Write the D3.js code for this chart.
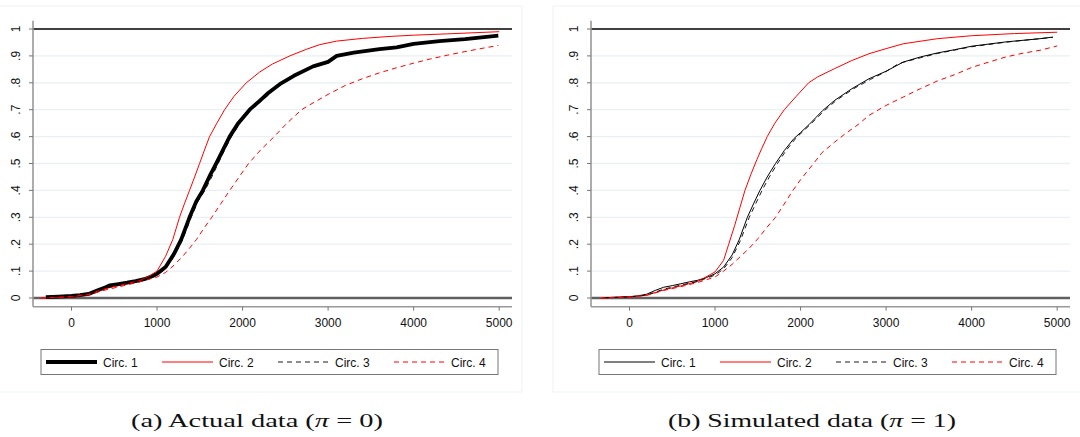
<!DOCTYPE html>
<meta charset="utf-8">
<style>
body { margin: 0; background: #fff; }
.tick-label { font: 12px "Liberation Sans", Arial, sans-serif; fill: #111; }
.legend text { font: 12px "Liberation Sans", Arial, sans-serif; fill: #111; }
.caption { font-family: "Liberation Serif", "DejaVu Serif", serif; font-size: 19px; fill: #111; }
</style>
<svg width="1080" height="437"></svg>
<script src="https://d3js.org/d3.v7.min.js"></script>
<script>

// --- data: [x, cumulative share] ---
var actualCirc1 = [[-300,0.003],[-150,0.005],[0,0.008],[100,0.011],[200,0.015],[300,0.028],[400,0.04],[450,0.047],[550,0.052],[650,0.057],[750,0.063],[850,0.07],[950,0.082],[1000,0.09],[1100,0.115],[1200,0.165],[1282,0.217],[1380,0.3],[1460,0.36],[1536,0.4],[1610,0.45],[1692,0.5],[1770,0.55],[1849,0.6],[1950,0.65],[2083,0.7],[2200,0.733],[2300,0.762],[2435,0.795],[2600,0.826],[2825,0.861],[3000,0.878],[3100,0.9],[3300,0.912],[3600,0.925],[3800,0.932],[4000,0.945],[4300,0.955],[4600,0.962],[4990,0.975]];
var actualCirc2 = [[-360,0],[-200,0.002],[0,0.006],[200,0.014],[300,0.025],[400,0.035],[600,0.05],[800,0.065],[900,0.08],[1000,0.1],[1100,0.155],[1184,0.217],[1263,0.3],[1320,0.35],[1380,0.4],[1440,0.45],[1497,0.5],[1555,0.55],[1614,0.6],[1700,0.65],[1790,0.7],[1900,0.75],[2044,0.8],[2200,0.84],[2350,0.87],[2552,0.9],[2750,0.925],[2904,0.942],[3100,0.955],[3400,0.965],[3700,0.972],[4000,0.977],[4400,0.982],[5000,0.99]];
var actualCirc3 = [[-300,0.003],[0,0.008],[200,0.014],[400,0.037],[600,0.05],[800,0.064],[1000,0.085],[1100,0.108],[1200,0.155],[1300,0.217],[1400,0.3],[1480,0.36],[1560,0.4],[1640,0.45],[1715,0.5],[1790,0.55],[1870,0.6],[1970,0.65],[2100,0.7],[2250,0.74],[2450,0.796],[2620,0.827],[2830,0.86],[3000,0.877],[3100,0.899],[3300,0.911],[3600,0.925],[4000,0.943],[4400,0.958],[4960,0.973]];
var actualCirc4 = [[-360,0],[0,0.004],[200,0.012],[400,0.03],[600,0.045],[800,0.06],[1000,0.078],[1100,0.095],[1200,0.122],[1300,0.155],[1380,0.185],[1460,0.217],[1550,0.26],[1640,0.3],[1745,0.35],[1850,0.4],[1960,0.45],[2070,0.5],[2210,0.55],[2370,0.6],[2520,0.65],[2690,0.7],[2850,0.73],[3000,0.757],[3200,0.79],[3400,0.815],[3600,0.837],[3800,0.856],[4000,0.873],[4200,0.889],[4400,0.903],[4600,0.916],[4800,0.928],[4990,0.939]];

var simCirc1 = [[-300,0.001],[0,0.005],[100,0.008],[200,0.014],[300,0.028],[400,0.04],[500,0.046],[600,0.053],[700,0.06],[800,0.066],[900,0.076],[1000,0.09],[1100,0.115],[1200,0.16],[1282,0.216],[1378,0.3],[1450,0.35],[1525,0.4],[1610,0.45],[1707,0.5],[1810,0.548],[1920,0.592],[2000,0.615],[2100,0.645],[2259,0.697],[2400,0.735],[2600,0.778],[2800,0.815],[3000,0.843],[3100,0.86],[3200,0.877],[3400,0.896],[3600,0.911],[3800,0.923],[4000,0.936],[4400,0.952],[4800,0.964],[4950,0.97]];
var simCirc2 = [[-330,0],[0,0.004],[200,0.01],[400,0.03],[600,0.045],[800,0.062],[950,0.088],[1000,0.097],[1100,0.14],[1160,0.2],[1230,0.27],[1290,0.335],[1350,0.4],[1420,0.46],[1490,0.515],[1545,0.555],[1610,0.6],[1700,0.65],[1810,0.7],[1950,0.75],[2094,0.8],[2200,0.822],[2400,0.853],[2600,0.883],[2800,0.908],[3000,0.927],[3200,0.945],[3600,0.964],[4000,0.975],[4500,0.983],[5000,0.988]];
var simCirc3 = [[-300,0.001],[0,0.004],[200,0.011],[300,0.022],[400,0.033],[600,0.048],[800,0.062],[1000,0.085],[1100,0.108],[1200,0.15],[1300,0.216],[1400,0.3],[1475,0.35],[1550,0.4],[1635,0.45],[1730,0.5],[1830,0.548],[1945,0.594],[2120,0.647],[2280,0.697],[2420,0.735],[2620,0.778],[2820,0.813],[3000,0.842],[3150,0.872],[3400,0.893],[3600,0.909],[4000,0.934],[4400,0.951],[4950,0.969]];
var simCirc4 = [[-335,0],[0,0.003],[200,0.01],[400,0.028],[600,0.042],[800,0.058],[1000,0.078],[1100,0.1],[1200,0.125],[1300,0.155],[1400,0.185],[1500,0.22],[1600,0.26],[1707,0.3],[1800,0.345],[1900,0.395],[2000,0.44],[2132,0.492],[2250,0.54],[2400,0.58],[2520,0.61],[2674,0.645],[2800,0.679],[3000,0.716],[3200,0.747],[3400,0.778],[3600,0.807],[3800,0.83],[4000,0.857],[4200,0.877],[4400,0.896],[4600,0.91],[4800,0.921],[5000,0.937]];

var seriesNames = ["Circ. 1", "Circ. 2", "Circ. 3", "Circ. 4"];
var xTicks = [0, 1000, 2000, 3000, 4000, 5000];
var yTicks = [0, 0.1, 0.2, 0.3, 0.4, 0.5, 0.6, 0.7, 0.8, 0.9, 1];
var yTickLabels = ["0", ".1", ".2", ".3", ".4", ".5", ".6", ".7", ".8", ".9", "1"];
var captions = ["(a) Actual data (", "(b) Simulated data ("];
var captionPi = ["0", "1"];

var svg = d3.select("svg");

// line styles per series (Circ. 1 is heavy only in the first panel)
var styles = [
  [{color: "#000", width: 3.8, dash: null}, {color: "#000", width: 1, dash: null}],
  [{color: "#f00", width: 1, dash: null}, {color: "#f00", width: 1, dash: null}],
  [{color: "#000", width: 0.9, dash: "5,4"}, {color: "#000", width: 0.9, dash: "5,4"}],
  [{color: "#f00", width: 1, dash: "5,4"}, {color: "#f00", width: 1, dash: "5,4"}]
];

var panels = [
  {ox: 0, series: [actualCirc1, actualCirc2, actualCirc3, actualCirc4], capCx: 257, capW: 252},
  {ox: 558, series: [simCirc1, simCirc2, simCirc3, simCirc4], capCx: 254, capW: 288}
];

panels.forEach(function(p, pi) {
  var g = svg.append("g").attr("transform", "translate(" + p.ox + ",0)");

  var x = d3.scaleLinear().domain([-450, 5150]).range([33, 512]);
  var y = d3.scaleLinear().domain([0, 1]).range([298, 29]);

  // graph region outline
  g.append("rect")
      .attr("x", pi === 0 ? -2 : -5).attr("y", 6)
      .attr("width", pi === 0 ? 524 : 528).attr("height", 386)
      .attr("fill", "none").attr("stroke", "#edf2f4");

  // grid lines
  g.append("g").selectAll("line")
    .data(yTicks.slice(1, -1)).enter().append("line")
      .attr("x1", 33).attr("x2", 512)
      .attr("y1", function(d) { return y(d); })
      .attr("y2", function(d) { return y(d); })
      .attr("stroke", "#e8f0f2").attr("stroke-width", 1.3);

  // yline at 0 and 1
  g.append("line").attr("x1", 33).attr("x2", 512)
      .attr("y1", y(0)).attr("y2", y(0))
      .attr("stroke", "#606060").attr("stroke-width", 2.4);
  g.append("line").attr("x1", 33).attr("x2", 512)
      .attr("y1", y(1)).attr("y2", y(1))
      .attr("stroke", "#000").attr("stroke-width", 1.3);

  // axes
  var yAxis = g.append("g").attr("transform", "translate(33,0)");
  yAxis.append("line").attr("y1", 20.7).attr("y2", 306.7)
      .attr("stroke", "#999").attr("stroke-width", 1.6);
  yAxis.selectAll(".t").data(yTicks).enter().append("line")
      .attr("x1", -4).attr("x2", 0)
      .attr("y1", function(d) { return y(d); }).attr("y2", function(d) { return y(d); })
      .attr("stroke", "#777").attr("stroke-width", 1);
  yAxis.selectAll("text").data(yTicks).enter().append("text")
      .attr("class", "tick-label")
      .attr("text-anchor", "middle")
      .attr("transform", function(d) { return "translate(-13," + y(d) + ") rotate(-90)"; })
      .text(function(d, i) { return yTickLabels[i]; });

  var xAxis = g.append("g").attr("transform", "translate(0,306.7)");
  xAxis.append("line").attr("x1", 33).attr("x2", 512)
      .attr("stroke", "#999").attr("stroke-width", 1.6);
  xAxis.selectAll(".t").data(xTicks).enter().append("line")
      .attr("x1", function(d) { return x(d); }).attr("x2", function(d) { return x(d); })
      .attr("y1", 0).attr("y2", 4)
      .attr("stroke", "#777").attr("stroke-width", 1);
  xAxis.selectAll("text").data(xTicks).enter().append("text")
      .attr("class", "tick-label")
      .attr("text-anchor", "middle")
      .attr("x", function(d) { return x(d); })
      .attr("y", 20)
      .text(function(d) { return d; });

  // curves
  var line = d3.line()
      .x(function(d) { return x(d[0]); })
      .y(function(d) { return y(d[1]); });

  p.series.forEach(function(s, si) {
    var st = styles[si][pi];
    g.append("path")
        .datum(s)
        .attr("d", line)
        .attr("fill", "none")
        .attr("stroke", st.color)
        .attr("stroke-width", st.width)
        .attr("stroke-linejoin", "round")
        .attr("stroke-dasharray", st.dash);
  });

  // legend
  var lg = g.append("g").attr("class", "legend").attr("transform", "translate(41,349.5)");
  lg.append("rect").attr("width", 457).attr("height", 25)
      .attr("fill", "#fff").attr("stroke", "#777").attr("stroke-width", 1);
  var item = lg.selectAll(".item").data(seriesNames).enter().append("g")
      .attr("transform", function(d, i) { return "translate(" + (5 + i * 116) + ",0)"; });
  item.append("line")
      .attr("x1", 0).attr("x2", 51).attr("y1", 12.5).attr("y2", 12.5)
      .attr("stroke", function(d, i) { return styles[i][pi].color; })
      .attr("stroke-width", function(d, i) { return styles[i][pi].width; })
      .attr("stroke-dasharray", function(d, i) { return styles[i][pi].dash; });
  item.append("text")
      .attr("x", 57).attr("y", 17)
      .text(function(d) { return d; });

  // caption
  var cap = g.append("text").attr("class", "caption")
      .attr("x", p.capCx).attr("y", 427)
      .attr("text-anchor", "middle")
      .attr("textLength", p.capW)
      .attr("lengthAdjust", "spacingAndGlyphs");
  cap.append("tspan").text(captions[pi]);
  cap.append("tspan").attr("font-style", "italic").text("\u03c0");
  cap.append("tspan").text(" = " + captionPi[pi] + ")");
});

</script>
